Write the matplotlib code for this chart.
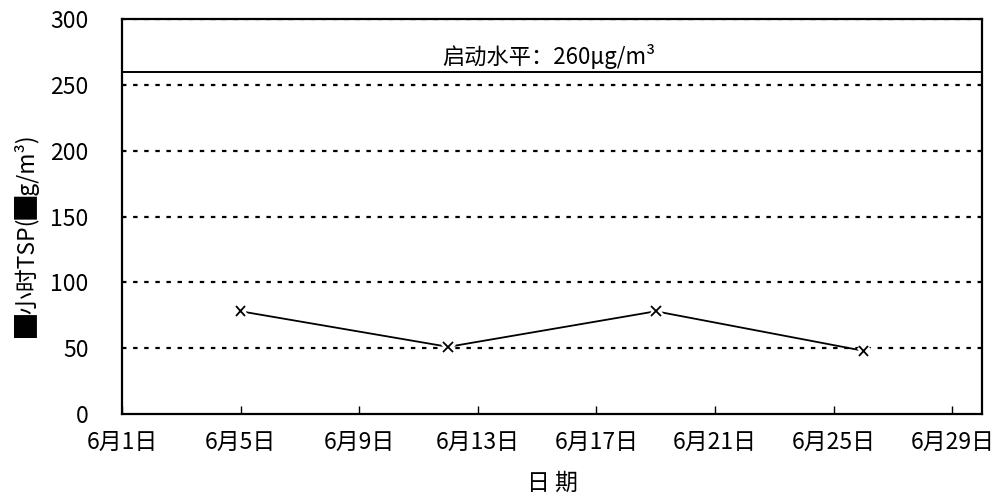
import matplotlib
matplotlib.use("Agg")
import matplotlib.pyplot as plt
import matplotlib.patheffects as pe
import numpy as np

plt.rcParams['font.family'] = ['Noto Sans CJK SC', 'DejaVu Sans']

days = [5, 12, 19, 26]           # day of June
tsp = [78, 51, 78, 48]           # ug/m3
threshold = 260
tick_days = [1, 5, 9, 13, 17, 21, 25, 29]
tick_labels = [f"6月{d}日" for d in tick_days]
grid_levels = [50, 100, 150, 200, 250, 300]

fig = plt.figure(figsize=(9.98, 5.01), dpi=100)
ax = fig.add_axes([0.1222, 0.1737, 0.8618, 0.7883])

for g in grid_levels:
    ax.axhline(g, color='black', ls=(0, (2, 3)), lw=1.6, zorder=1)
ax.axhline(threshold, color='black', lw=1.4, zorder=2)
ax.text(15.4, threshold + 2, "启动水平：260μg/m³", ha='center', va='bottom', fontsize=16)

ax.plot(days, tsp, color='black', lw=1.3, zorder=3)
ax.plot(days, tsp, ls='none', marker='x', ms=7, mew=1.3, color='black', zorder=4,
        path_effects=[pe.withStroke(linewidth=5, foreground='white')])

ax.set_xlim(1, 30)
ax.set_ylim(0, 300)
ax.set_xticks(tick_days)
ax.set_xticklabels(tick_labels)
ax.set_yticks([0, 50, 100, 150, 200, 250, 300])
ax.tick_params(axis='x', direction='in', length=6, width=1, pad=12, labelsize=16.5)
ax.tick_params(axis='y', length=0, pad=24, labelsize=16.5)
for s in ax.spines.values():
    s.set_linewidth(1.6)

ax.set_xlabel("日 期", fontsize=16.5, labelpad=13)
ax.set_ylabel("█小时TSP(█g/m³)", fontsize=16.5)
ax.yaxis.set_label_coords(-0.095, 0.45)

fig.savefig("out.png", dpi=100)
